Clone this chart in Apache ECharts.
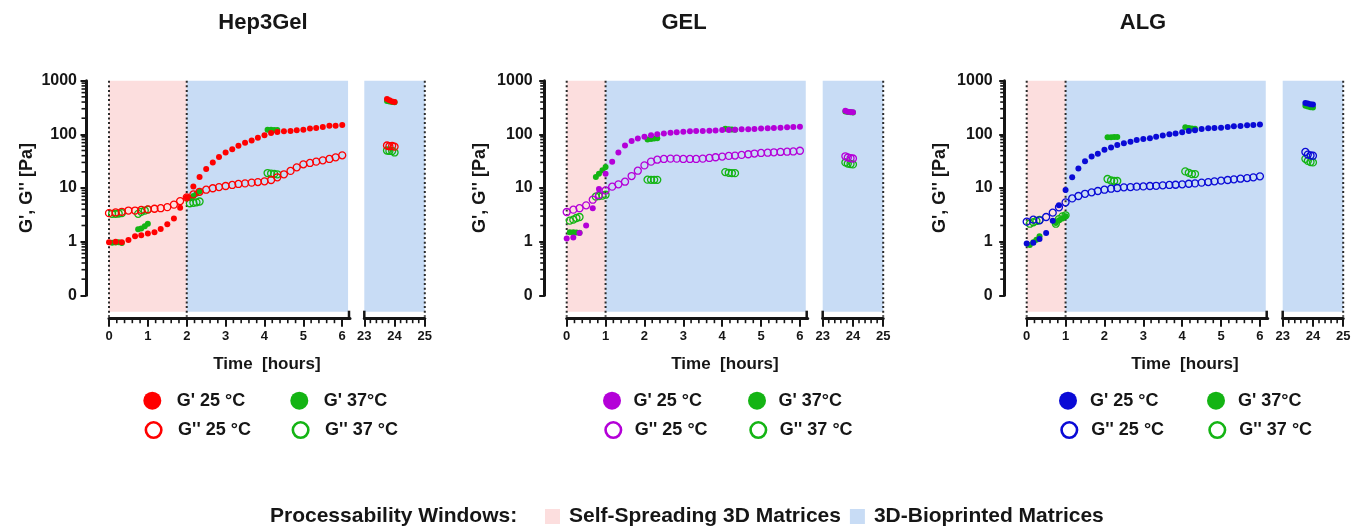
<!DOCTYPE html>
<html><head><meta charset="utf-8">
<script src="https://cdn.jsdelivr.net/npm/echarts@6/dist/echarts.min.js"></script>
<style>html,body{margin:0;padding:0;background:#fff}#c{width:1351px;height:527px}</style>
</head><body><div id="c"></div>
<script>
// ---------------- DATA ----------------
const panelTitles = ['Hep3Gel', 'GEL', 'ALG'];
const seriesLabels = ["G' 25 °C", "G' 37°C", "G'' 25 °C", "G'' 37 °C"];
const windowLabels = ['Self-Spreading 3D Matrices', '3D-Bioprinted Matrices'];
const windowCaption = 'Processability Windows:';
const yTitle = "G', G'' [Pa]";
const xTitle = 'Time  [hours]';

// time points (hours)
const t25 = [0,0.17,0.33,0.5,0.67,0.83,1,1.17,1.33,1.5,1.67,1.83,2,2.17,2.33,2.5,2.67,2.83,3,3.17,3.33,3.5,3.67,3.83,4,4.17,4.33,4.5,4.67,4.83,5,5.17,5.33,5.5,5.67,5.83,6];
const t37 = [0.08,0.17,0.25,0.33, 0.75,0.83,0.92,1.0, 2.08,2.17,2.25,2.33, 4.08,4.17,4.25,4.33];
const tDay = [23.75,23.83,23.92,24.0];

// tick values
const xTicksA = [0,1,2,3,4,5,6];
const xTicksB = [23,24,25];
const xMinorA = [0.2,0.4,0.6,0.8,1.2,1.4,1.6,1.8,2.2,2.4,2.6,2.8,3.2,3.4,3.6,3.8,4.2,4.4,4.6,4.8,5.2,5.4,5.6,5.8];
const xMinorB = [23.2,23.4,23.6,23.8,24.2,24.4,24.6,24.8];
const yMinor = [0.2,0.3,0.4,0.5,0.6,0.7,0.8,0.9,2,3,4,5,6,7,8,9,20,30,40,50,60,70,80,90,200,300,400,500,600,700,800,900];

// processability windows (hours)
const selfWindow = [[0,2],[0,1],[0,1]];
const printWindow = [[2,6.15],[1,6.15],[1,6.15]];
const printWindowDay = [23,25];
const dottedLinesA = [[0,2],[0,1],[0,1]];
const dottedLinesB = [25];

// Hep3Gel
const hepG1_25 = [0.97,1.0,0.97,1.07,1.26,1.31,1.42,1.49,1.72,2.1,2.7,4.3,6.7,10.7,16,22.6,30,37.9,46,53,61.5,70,77,86,96,106,111,114,115,119,122,128,131,137,144,145,150];
const hepG2_25 = [3.4,3.5,3.6,3.8,3.8,3.9,4.0,4.1,4.2,4.4,4.9,5.7,6.7,7.6,8.5,9.3,9.9,10.4,10.9,11.4,11.9,12.2,12.6,12.9,13.3,14.1,15.8,18,20.8,24.3,27.6,29.3,31,32.8,34.8,37.3,40.6];
const hepG1_37 = [0.95,0.96,0.97,0.94, 1.7,1.75,1.93,2.16, 6.5,7.1,7.8,8.6, 122,122,121,121];
const hepG2_37 = [3.3,3.3,3.35,3.4, 3.3,3.6,3.8,3.95, 5.2,5.3,5.4,5.6, 19.0,18.6,18.3,18.0];
const hepDayG1_25 = [455,431,411,400];
const hepDayG2_25 = [62,60,61,59];
const hepDayG1_37 = [420,410,400,395];
const hepDayG2_37 = [50,49,49,46];

// GEL
const gelG1_25 = [1.15,1.19,1.45,1.99,4.2,9.6,18.5,31,46,62,75,84,90,96,100,104,107,110,112,114,115,116,117,118,121,121,122,124,124,126,128,130,131,133,135,137,139];
const gelG2_25 = [3.57,3.95,4.2,4.75,6.05,7.4,9.0,10.6,11.7,13.1,16.7,21,26.4,31,33.7,34.8,35.3,35.3,34.8,34.8,34.8,35.3,36.3,37.4,38.5,39.6,40.2,41.4,42.6,43.9,45,45.5,46.3,47,47.5,48,49.5];
const gelG1_37 = [1.5,1.5,1.48,1.47, 16,18.5,21.4,24.6, 80,82,84,85, 127,125,123,122];
const gelG2_37 = [2.46,2.57,2.76,2.88, 6.9,7.1,7.2,7.5, 14.3,14.2,14.2,14.2, 19.8,19.2,18.9,18.9];
const gelDayG1_25 = [275,265,262,258];
const gelDayG2_25 = [39,37,36,35.5];
const gelDayG1_37 = [268,262,258,255];
const gelDayG2_37 = [30,28.5,28,27.5];

// ALG
const algG1_25 = [0.92,0.95,1.12,1.45,2.46,4.75,9.2,15.8,23,31.4,38.5,43.6,51.9,57,63,68,73,78.5,82,85,90,95,100,104,110,115,119,126,130,131,133,137,141,143,147,149,153];
const algG2_25 = [2.36,2.57,2.5,2.88,3.47,4.37,5.4,6.4,7.1,7.8,8.3,8.8,9.3,9.7,10.0,10.3,10.4,10.6,10.7,10.9,11.0,11.2,11.4,11.5,11.7,12.0,12.2,12.6,12.9,13.3,13.7,14.1,14.5,14.9,15.3,15.8,16.5];
const algG1_37 = [0.87,0.97,1.09,1.26, 2.23,2.5,2.7,2.96, 88,88,89,89, 135,132,128,127];
const algG2_37 = [2.16,2.3,2.43,2.53, 2.16,2.64,2.96,3.1, 14.7,13.8,13.5,13.5, 20.4,19.2,18.2,18.2];
const algDayG1_25 = [385,375,365,360];
const algDayG2_25 = [47,42,40.5,40];
const algDayG1_37 = [340,330,320,316];
const algDayG2_37 = [35,32,30.5,30];

// ---------------- STYLE / LAYOUT ----------------
const FONT = '"Liberation Sans", Arial, Helvetica, sans-serif';
const INK = '#161616';
const color25 = ['#ff0000', '#b400d8', '#0a0ad6'];
const color37 = '#14b414';
const PINK = '#fcdede';
const BLUE = '#c8dcf5';
const Y_MIN = 0.1, Y_MAX = 1000;
const GRID_TOP = 80.7, GRID_H = 214.6;
const A_W = 241, B_W = 60.5;
const panelLeft = [[109, 364.3], [566.7, 822.7], [1026.7, 1282.7]];
const yAxisOff = [23, 22, 22];
const yNameGap = [50, 56, 56];
const yLabelMargin = [9, 12, 12];
const X_OFF = 23.4;
const SHADE_EXT = 16.4;
const titleX = [263, 684, 1143];
const legendColX = [[152.3, 299.3], [612, 757], [1068, 1216]];
const legendTextOff = [24.5, 21.5, 22];
const legendRowY = [400.7, 430];

const panels = [
  {g1_25: hepG1_25, g2_25: hepG2_25, g1_37: hepG1_37, g2_37: hepG2_37, d1_25: hepDayG1_25, d2_25: hepDayG2_25, d1_37: hepDayG1_37, d2_37: hepDayG2_37},
  {g1_25: gelG1_25, g2_25: gelG2_25, g1_37: gelG1_37, g2_37: gelG2_37, d1_25: gelDayG1_25, d2_25: gelDayG2_25, d1_37: gelDayG1_37, d2_37: gelDayG2_37},
  {g1_25: algG1_25, g2_25: algG2_25, g1_37: algG1_37, g2_37: algG2_37, d1_25: algDayG1_25, d2_25: algDayG2_25, d1_37: algDayG1_37, d2_37: algDayG2_37}
];

const zip = (xs, ys) => xs.map((x, k) => [x, ys[k]]);

function makeX(gi, min, max, ticks) {
  return {
    type: 'value', gridIndex: gi, min, max, position: 'bottom', offset: X_OFF,
    axisLine: {show: true, onZero: false, lineStyle: {color: INK, width: 3}},
    axisTick: {show: true, inside: false, length: 8, customValues: ticks, lineStyle: {color: INK, width: 2}},
    minorTick: {show: false},
    axisLabel: {customValues: ticks, margin: 11, color: INK, fontFamily: FONT, fontWeight: 'bold', fontSize: 13, formatter: v => String(v)},
    splitLine: {show: false}
  };
}
function makeY(gi, show, i) {
  return {
    type: 'log', logBase: 10, gridIndex: gi, min: Y_MIN, max: Y_MAX, position: 'left', offset: yAxisOff[i], show,
    name: show ? yTitle : '', nameLocation: 'middle', nameGap: yNameGap[i], nameRotate: 90,
    nameTextStyle: {color: INK, fontFamily: FONT, fontWeight: 'bold', fontSize: 18},
    axisLine: {show: true, onZero: false, lineStyle: {color: INK, width: 3}},
    axisTick: {show: true, length: 5.5, lineStyle: {color: INK, width: 2}},
    axisLabel: {margin: yLabelMargin[i], color: INK, fontFamily: FONT, fontWeight: 'bold', fontSize: 16,
      formatter: v => v < 0.5 ? '0' : String(Math.round(v))},
    splitLine: {show: false}
  };
}
function shade(name, gi, x0, x1, color) {
  return {
    type: 'custom', name, xAxisIndex: gi, yAxisIndex: gi, silent: true, clip: false, z: 1, animation: false,
    itemStyle: {color}, encode: {x: [0, 1], y: 2}, data: [[x0, x1, Y_MIN]],
    renderItem: (p, api) => {
      const a = api.coord([api.value(0), Y_MAX]);
      const b = api.coord([api.value(1), Y_MIN]);
      return {type: 'rect', shape: {x: a[0], y: a[1], width: b[0] - a[0], height: b[1] - a[1] + SHADE_EXT}, style: {fill: color}};
    }
  };
}
function dotted(gi, xs) {
  return {
    type: 'custom', xAxisIndex: gi, yAxisIndex: gi, silent: true, clip: false, z: 2, animation: false,
    data: xs.map(x => [x, Y_MIN]),
    renderItem: (p, api) => {
      const top = api.coord([api.value(0), Y_MAX]);
      const bot = api.coord([api.value(0), Y_MIN]);
      return {type: 'line', shape: {x1: top[0], y1: top[1], x2: top[0], y2: bot[1] + X_OFF - 2},
        style: {stroke: '#2a2a2a', lineWidth: 2, lineDash: [2, 2.6]}};
    }
  };
}
function yMinorTicks(gi, off) {
  return {
    type: 'custom', xAxisIndex: gi, yAxisIndex: gi, silent: true, clip: false, z: 3, animation: false,
    data: yMinor.map(v => [0, v]),
    renderItem: (p, api) => {
      const c = api.coord([api.value(0), api.value(1)]);
      const x = c[0] - off;
      return {type: 'line', shape: {x1: x, y1: c[1], x2: x - 4.5, y2: c[1]}, style: {stroke: INK, lineWidth: 1.6}};
    }
  };
}
function xMinorTicks(gi, vals, breakAt, breakDir) {
  return {
    type: 'custom', xAxisIndex: gi, yAxisIndex: gi, silent: true, clip: false, z: 3, animation: false,
    data: vals.map(v => [v, Y_MIN, 0]).concat([[breakAt, Y_MIN, 1]]),
    renderItem: (p, api) => {
      const c = api.coord([api.value(0), api.value(1)]);
      const y = c[1] + X_OFF;
      if (api.value(2) === 1) {
        return {type: 'line', shape: {x1: c[0] + breakDir, y1: y, x2: c[0] + breakDir, y2: y - 8}, style: {stroke: INK, lineWidth: 2.5}};
      }
      return {type: 'line', shape: {x1: c[0], y1: y, x2: c[0], y2: y + 4.5}, style: {stroke: INK, lineWidth: 1.6}};
    }
  };
}
function scatter(name, gi, xs, ys, color, filled, z) {
  return {
    type: 'scatter', name, xAxisIndex: gi, yAxisIndex: gi, symbol: 'circle', symbolSize: filled ? 6 : 7,
    itemStyle: filled ? {color, opacity: 1} : {color: 'rgba(255,255,255,0)', borderColor: color, borderWidth: 1.3, opacity: 1},
    data: zip(xs, ys), z, silent: true, animation: false, emphasis: {disabled: true}
  };
}

const grid = [], xAxis = [], yAxis = [], series = [], legend = [], graphic = [];

panels.forEach((P, i) => {
  const gA = 2 * i, gB = 2 * i + 1;
  const pre = panelTitles[i] + '|';
  grid.push({left: panelLeft[i][0], top: GRID_TOP, width: A_W, height: GRID_H, containLabel: false, outerBoundsMode: 'none'});
  grid.push({left: panelLeft[i][1], top: GRID_TOP, width: B_W, height: GRID_H, containLabel: false, outerBoundsMode: 'none'});
  xAxis.push(makeX(gA, 0, 6.2, xTicksA));
  xAxis.push(makeX(gB, 23, 25, xTicksB));
  yAxis.push(makeY(gA, true, i));
  yAxis.push(makeY(gB, false, i));

  series.push(shade(windowLabels[0], gA, selfWindow[i][0], selfWindow[i][1], PINK));
  series.push(shade(windowLabels[1], gA, printWindow[i][0], printWindow[i][1], BLUE));
  series.push(shade(windowLabels[1], gB, printWindowDay[0], printWindowDay[1], BLUE));
  series.push(dotted(gA, dottedLinesA[i]));
  series.push(dotted(gB, dottedLinesB));
  series.push(yMinorTicks(gA, yAxisOff[i]));
  series.push(xMinorTicks(gA, xMinorA, 6.2, -1));
  series.push(xMinorTicks(gB, xMinorB, 23, 0));

  const c = color25[i];
  // 37 °C (under)
  series.push(scatter(pre + seriesLabels[3], gA, t37, P.g2_37, color37, false, 4));
  series.push(scatter(pre + seriesLabels[3], gB, tDay, P.d2_37, color37, false, 4));
  series.push(scatter(pre + seriesLabels[1], gA, t37, P.g1_37, color37, true, 5));
  series.push(scatter(pre + seriesLabels[1], gB, tDay, P.d1_37, color37, true, 5));
  // 25 °C
  series.push(scatter(pre + seriesLabels[2], gA, t25, P.g2_25, c, false, 6));
  series.push(scatter(pre + seriesLabels[2], gB, tDay, P.d2_25, c, false, 6));
  series.push(scatter(pre + seriesLabels[0], gA, t25, P.g1_25, c, true, 7));
  series.push(scatter(pre + seriesLabels[0], gB, tDay, P.d1_25, c, true, 7));

  // legends (2 x 2)
  const items = [
    {lab: seriesLabels[0], col: 0, row: 0, color: c, filled: true},
    {lab: seriesLabels[1], col: 1, row: 0, color: color37, filled: true},
    {lab: seriesLabels[2], col: 0, row: 1, color: c, filled: false},
    {lab: seriesLabels[3], col: 1, row: 1, color: color37, filled: false}
  ];
  items.forEach(it => {
    const size = it.filled ? 18 : 15.5;
    legend.push({
      selectedMode: false, orient: 'horizontal', padding: 0, itemGap: 0,
      left: legendColX[i][it.col] - size / 2, top: legendRowY[it.row] - 9,
      itemWidth: size, itemHeight: size, icon: 'circle',
      data: [{name: pre + it.lab, icon: 'circle',
        itemStyle: it.filled ? {color: it.color, borderWidth: 0} : {color: '#ffffff', borderColor: it.color, borderWidth: 2.6}}],
      formatter: n => n.split('|')[1],
      textStyle: {color: INK, fontFamily: FONT, fontWeight: 'bold', fontSize: 18, lineHeight: 18,
        padding: [0, 0, 0, legendTextOff[i] - size / 2 - 5]}
    });
  });

  // titles
  graphic.push({type: 'text', x: titleX[i], y: 23, silent: true,
    style: {text: panelTitles[i], font: 'bold 22px ' + FONT, fill: INK, align: 'center', textAlign: 'center', verticalAlign: 'middle', textVerticalAlign: 'middle'}});
  const cx = (panelLeft[i][0] + panelLeft[i][1] + B_W) / 2;
  graphic.push({type: 'text', x: cx, y: 364, silent: true,
    style: {text: xTitle, font: 'bold 17px ' + FONT, fill: INK, align: 'center', textAlign: 'center', verticalAlign: 'middle', textVerticalAlign: 'middle'}});
});

// bottom legend
graphic.push({type: 'text', x: 270, y: 516, silent: true,
  style: {text: windowCaption, font: 'bold 21px ' + FONT, fill: INK, align: 'left', textAlign: 'left', verticalAlign: 'middle', textVerticalAlign: 'middle'}});
legend.push({
  selectedMode: false, orient: 'horizontal', padding: 0, itemGap: 9, left: 545, top: 506,
  itemWidth: 15, itemHeight: 15, icon: 'rect',
  data: [{name: windowLabels[0], icon: 'rect', itemStyle: {color: PINK, borderWidth: 0}},
         {name: windowLabels[1], icon: 'rect', itemStyle: {color: BLUE, borderWidth: 0}}],
  textStyle: {color: INK, fontFamily: FONT, fontWeight: 'bold', fontSize: 21, lineHeight: 21, padding: [0, 0, 0, 4]}
});

const chart = echarts.init(document.getElementById('c'), null, {renderer: 'canvas'});
chart.setOption({
  animation: false,
  backgroundColor: '#ffffff',
  grid, xAxis, yAxis, series, legend, graphic
});
</script>
</body></html>
